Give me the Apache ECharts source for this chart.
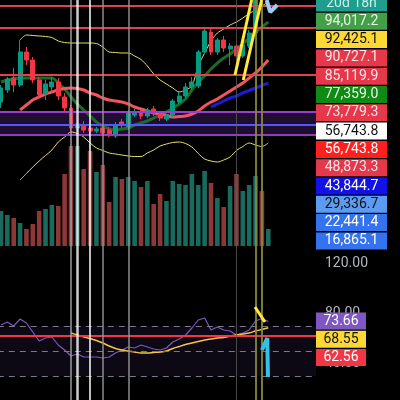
<!DOCTYPE html>
<html>
<head>
<meta charset="utf-8">
<script src="https://cdn.jsdelivr.net/npm/echarts@6/dist/echarts.min.js"></script>
<style>
  html, body { margin: 0; padding: 0; background: #000; }
  #chart { width: 400px; height: 400px; }
</style>
</head>
<body>
<div id="chart"></div>
<script>
// 50 slots, the last ones are empty space right of the last candle
const categories = Array.from({ length: 50 }, (_, i) => 'D' + (i + 1));

// [open, close, low, high]
const candles = [
  [76740, 81030, 74900, 81950], [80420, 83790, 79500, 84400], [84100, 81950, 79810, 87160],
  [81950, 92060, 81340, 95740], [92060, 89610, 88080, 93600], [89610, 83480, 82560, 90530],
  [83480, 78890, 77660, 84400], [79190, 82260, 77360, 83480], [81340, 82870, 79810, 84400],
  [82870, 78580, 77360, 84100], [78270, 74900, 73680, 79500], [74900, 68770, 67550, 75820],
  [68770, 70000, 67850, 71230], [69690, 68160, 67240, 70920], [68770, 67850, 66940, 69690],
  [67850, 68470, 67240, 69080], [68770, 67240, 66320, 69390], [68160, 66630, 66020, 69080],
  [66320, 69690, 65710, 70610], [70610, 69690, 68770, 71530], [69080, 73370, 68160, 74290],
  [72760, 73370, 72150, 74600], [73680, 72450, 71530, 74290], [72450, 74290, 71840, 74900],
  [74600, 73370, 72450, 75520], [73060, 71840, 70920, 73980], [71530, 72450, 70920, 73060],
  [72760, 77050, 72150, 77660], [76740, 78580, 76130, 79810], [78580, 81340, 77970, 82560],
  [81340, 82870, 80420, 84400], [81650, 92060, 81030, 92680], [92060, 98500, 91450, 99420],
  [98190, 92060, 91150, 99110], [92060, 95740, 91150, 96360], [95740, 93290, 92060, 96970],
  [92980, 93900, 88080, 94820], [93900, 90840, 89610, 94520], [90840, 94210, 90230, 94820],
  [93900, 97890, 93290, 98810], [97890, 109530, 97270, 111060], [110450, 108920, 108000, 112600],
  [108920, 111680, 108310, 114130]
];

const volumes = [35, 31, 28, 23, 17, 22, 35, 37, 41, 40, 72, 100, 100, 77, 95, 74, 81, 44, 69, 67, 69, 65,
  59, 65, 42, 52, 45, 65, 62, 61, 72, 61, 75, 63, 48, 39, 60, 72, 55, 61, 70, 55, 17];

const maFast = [82870, 83480, 83790, 84100, 84100, 84100, 84100, 84100, 84100, 82560, 80730, 78270, 76130,
  74290, 72450, 70610, 69390, 68470, 68160, 68470, 68770, 69690, 70310, 70920, 71840, 72760, 73680, 74900,
  76130, 77660, 80420, 82870, 84710, 86860, 88690, 90230, 91450, 92980, 94520, 96360, 98190, 99730, 101260];

const maSlow = ['-', '-', '-', 74290, 75820, 77360, 78270, 79190, 79810, 80420, 80880, 81030, 80880, 80420,
  79500, 78890, 77970, 77360, 77050, 76740, 76130, 75210, 74600, 73980, 73370, 73060, 72610, 72150, 72300,
  72450, 73060, 73980, 75520, 76740, 77660, 78890, 80110, 81340, 82560, 84100, 85630, 87470, 89610];

const maBlue = ['-', '-', '-', '-', '-', '-', '-', '-', '-', '-', '-', '-', '-', '-', '-', '-', '-', '-', '-',
  '-', '-', '-', '-', '-', '-', '-', '-', '-', '-', '-', '-', '-', '-',
  75210, 76130, 77050, 77970, 78580, 79500, 80270, 81030, 81800, 82560];

const bbUpper = ['-', '-', '-', 95740, 97270, 97120, 96970, 96810, 96510, 95440, 94980, 94820, 94820, 94820,
  94820, 94670, 93600, 92060, 91910, 91760, 91760, 90840, 89770, 87770, 85320, 83480, 82260, 81030, 79810,
  80420, 81650, 87770, 91760, 95440, 97890, 99110, 100340, 101260, 102480, 103860, 104940, 106160, 107390];

const bbLower = ['-', '-', '-', 52840, 54830, 56820, 58660, 60350, 62030, 64480, 66020, 67550, 67090, 66020,
  64180, 62650, 61880, 61110, 60810, 60500, 60190, 60040, 60040, 61110, 62030, 63260, 63870, 64330, 64480,
  64020, 62950, 60960, 59270, 58660, 58350, 58970, 59890, 61880, 63100, 64180, 63560, 63100, 64180];

const rsi = [70.8, 73.2, 70, 75.6, 72.4, 65.2, 58, 60.4, 61.2, 54.8, 50.8, 46, 47.6, 45.2, 45.2, 45.2, 44.4,
  45.2, 48.4, 50.8, 53.2, 52.4, 54.8, 53.2, 51.6, 50.8, 52.4, 57.2, 59.6, 62.8, 68.4, 74.8, 76.4, 66.8, 69.2,
  66.8, 66, 62.8, 64.4, 66.8, 74, 76, 73.66];

const rsiMa = ['-', '-', '-', '-', '-', '-', '-', '-', '-', '-', '-', 64.4, 62.8, 61.2, 60, 58.4, 56.4, 54, 52,
  50.8, 50, 49.2, 48.4, 48.4, 48.8, 49.2, 50, 52, 53.6, 55.2, 56.4, 57.6, 58.8, 59.6, 60.4, 60.8, 62, 62.8,
  63.6, 64.4, 66, 67.2, 68.55];

// horizontal levels drawn on the price pane
const levelPrices = [106160, 99420, 85020, 73680, 69690, 66630];
const levelColors = ['#e0404f', '#e0404f', '#e0404f', '#9a3fd0', '#5058ff', '#8e3fc0'];
const zoneBand = [73680, 66630];

const rsiBands = [70, 50, 30];
const rsiAlert = 62.56;

// vertical marker lines (candle index)
const vlineIdx = [11, 12, 14, 16, 20, 37, 40, 41];
const vlineColors = ['rgba(165,165,165,0.7)', 'rgba(255,255,255,0.8)', 'rgba(255,255,255,0.75)',
  'rgba(150,150,150,0.7)', 'rgba(150,150,150,0.7)', 'rgba(90,90,90,0.8)',
  'rgba(135,135,60,0.9)', 'rgba(135,135,60,0.9)'];
const vlineWidths = [2, 2.5, 2, 2, 2, 1, 2, 2];

// hand drawn marks: [slot position, value]
const drawYellowA = [[36.77, 85020], [39.39, 108000]];
const drawYellowB = [[38.07, 83480], [40.96, 108000]];
const drawCyanTop = [[41.75, 108000], [42.3, 104320], [43.4, 106470]];
const rsiYellowMark = [[39.91, 85.2], [41.48, 73.2]];
const rsiCyanMark = [[41.01, 50.8], [41.84, 60.4], [41.95, 29.2]];

// price tags on the right scale
const priceTags = ['20d 18h', '94,017.2', '92,425.1', '90,727.1', '85,119.9', '77,359.0', '73,779.3',
  '56,743.8', '56,743.8', '48,873.3', '43,844.7', '29,336.7', '22,441.4', '16,865.1'];
const priceTagBg = ['#1f9e8f', '#43a047', '#fdd835', '#e5394b', '#e5394b', '#0f8a14', '#e5394b',
  '#ffffff', '#ff1f1f', '#e5394b', '#1212e6', '#5b9cf2', '#3572ee', '#3572ee'];
const priceTagFg = ['#c8f0ea', '#e8f5e9', '#111111', '#fde3e6', '#fde3e6', '#e8f5e9', '#fde3e6',
  '#111111', '#ffffff', '#fde3e6', '#ffffff', '#111111', '#ffffff', '#ffffff'];

const rsiTags = ['73.66', '68.55', '62.56'];
const rsiTagBg = ['#7e57c2', '#fdd835', '#f23645'];
const rsiTagFg = ['#ffffff', '#111111', '#ffffff'];

const UP = '#089981';
const DOWN = '#f23645';
const FONT = 'Roboto, "Noto Sans", sans-serif';

function tagRich(bg, fg, width) {
  const rich = {};
  bg.forEach((c, i) => {
    rich['t' + i] = {
      backgroundColor: c, color: fg[i], width: width, height: 17, lineHeight: 17,
      align: 'center', fontSize: 14, fontFamily: FONT
    };
  });
  return rich;
}

const volumeData = volumes.map((v, i) => ({
  value: v,
  itemStyle: { color: candles[i][1] >= candles[i][0] ? '#1a6b5e' : '#8c3838' }
}));

const plainLine = (data, color, width, extra) => Object.assign({
  type: 'line', data: data, symbol: 'none', smooth: 0.3, z: 3, silent: true,
  lineStyle: { color: color, width: width }
}, extra || {});

// v6 pulls grids in to keep labels on screen; these panes are meant to bleed off the edges
const pane = (o) => Object.assign({ left: -2.2, right: 84, outerBoundsMode: 'none', containLabel: false }, o);

const chart = echarts.init(document.getElementById('chart'));
const option = {
  backgroundColor: '#000000',
  animation: false,
  grid: [
    pane({ top: 0, height: 248 }),
    pane({ top: 146, height: 100 }),
    pane({ top: 263.5, height: 150 }),
    pane({ top: 0, height: 400 }),
    pane({ left: 0, top: -6.15, height: 256.2 }),
    pane({ left: 0, top: 311.85, height: 54.9 })
  ],
  xAxis: [
    { type: 'category', gridIndex: 0, data: categories, show: false },
    { type: 'category', gridIndex: 1, data: categories, show: false },
    { type: 'category', gridIndex: 2, data: categories, show: false },
    { type: 'category', gridIndex: 3, data: categories, show: false },
    { type: 'value', gridIndex: 0, min: -0.5, max: 49.5, show: false },
    { type: 'value', gridIndex: 2, min: -0.5, max: 49.5, show: false },
    { type: 'value', gridIndex: 4, show: false },
    { type: 'value', gridIndex: 5, show: false }
  ],
  yAxis: [
    { type: 'value', gridIndex: 0, min: 32000, max: 108000, show: false },
    { type: 'value', gridIndex: 1, min: 0, max: 100, show: false },
    {
      type: 'value', gridIndex: 2, min: 0, max: 120, interval: 40, position: 'right',
      axisLine: { show: false }, axisTick: { show: false }, splitLine: { show: false },
      axisLabel: {
        color: '#b2b5be', fontSize: 14, fontFamily: FONT, margin: 9,
        formatter: (v) => v.toFixed(2)
      }
    },
    { type: 'value', gridIndex: 3, min: 0, max: 1, show: false },
    {
      type: 'category', gridIndex: 4, inverse: true, position: 'right', data: priceTags, z: 10,
      axisLine: { show: false }, axisTick: { show: false }, splitLine: { show: false },
      axisLabel: {
        interval: 0, margin: 0,
        formatter: (v, i) => '{t' + i + '|' + v + '}',
        rich: tagRich(priceTagBg, priceTagFg, 71)
      }
    },
    {
      type: 'category', gridIndex: 5, inverse: true, position: 'right', data: rsiTags, z: 10,
      axisLine: { show: false }, axisTick: { show: false }, splitLine: { show: false },
      axisLabel: {
        interval: 0, margin: 0,
        formatter: (v, i) => '{t' + i + '|' + v + '}',
        rich: tagRich(rsiTagBg, rsiTagFg, 50)
      }
    }
  ],
  series: [
    {
      type: 'bar', xAxisIndex: 1, yAxisIndex: 1, data: volumeData, barWidth: 4.6, z: 1, silent: true
    },
    {
      type: 'candlestick', xAxisIndex: 0, yAxisIndex: 0, data: candles, barWidth: 4.4, z: 3,
      itemStyle: { color: UP, color0: DOWN, borderColor: UP, borderColor0: DOWN, borderWidth: 1 },
      markLine: {
        silent: true, symbol: ['none', 'none'], label: { show: false },
        data: levelPrices.map((p, i) => ({
          yAxis: p, lineStyle: { color: levelColors[i], width: 2, type: 'solid' }
        }))
      },
      markArea: {
        silent: true,
        itemStyle: { color: 'rgba(110,50,170,0.28)' },
        data: [[{ yAxis: zoneBand[0] }, { yAxis: zoneBand[1] }]]
      }
    },
    plainLine(maFast, '#1c6b24', 3),
    plainLine(maSlow, '#f2555d', 3),
    plainLine(maBlue, '#1c1cd6', 3),
    plainLine(bbUpper, '#e6dd6a', 1),
    plainLine(bbLower, '#e6dd6a', 1),
    plainLine(rsi, '#7e57c2', 1.2, {
      xAxisIndex: 2, yAxisIndex: 2, smooth: false,
      markLine: {
        silent: true, symbol: ['none', 'none'], label: { show: false },
        data: rsiBands.map((v) => ({
          yAxis: v, lineStyle: { color: '#787b86', width: 1, type: [6, 5] }
        })).concat([{ yAxis: rsiAlert, lineStyle: { color: '#f23645', width: 2, type: 'solid' } }])
      },
      markArea: {
        silent: true,
        itemStyle: { color: 'rgba(126,87,194,0.1)' },
        data: [[{ yAxis: rsiBands[0] }, { yAxis: rsiBands[2] }]]
      }
    }),
    plainLine(rsiMa, '#f5c542', 1.5, { xAxisIndex: 2, yAxisIndex: 2 }),
    {
      type: 'line', xAxisIndex: 3, yAxisIndex: 3, data: [], z: 4, silent: true,
      markLine: {
        silent: true, symbol: ['none', 'none'], label: { show: false },
        data: vlineIdx.map((idx, i) => ({
          xAxis: categories[idx], lineStyle: { color: vlineColors[i], width: vlineWidths[i], type: 'solid' }
        }))
      }
    },
    plainLine(drawYellowA, '#ffeb3b', 3, { xAxisIndex: 4, yAxisIndex: 0, smooth: false, z: 5 }),
    plainLine(drawYellowB, '#ffeb3b', 3, { xAxisIndex: 4, yAxisIndex: 0, smooth: false, z: 5 }),
    plainLine(drawCyanTop, '#9ccbf5', 4, { xAxisIndex: 4, yAxisIndex: 0, smooth: false, z: 5 }),
    plainLine(rsiYellowMark, '#ffeb3b', 3, { xAxisIndex: 5, yAxisIndex: 2, smooth: false, z: 5 }),
    plainLine(rsiCyanMark, '#35c0e8', 4, { xAxisIndex: 5, yAxisIndex: 2, smooth: false, z: 5 })
  ]
};
chart.setOption(option);
</script>
</body>
</html>
